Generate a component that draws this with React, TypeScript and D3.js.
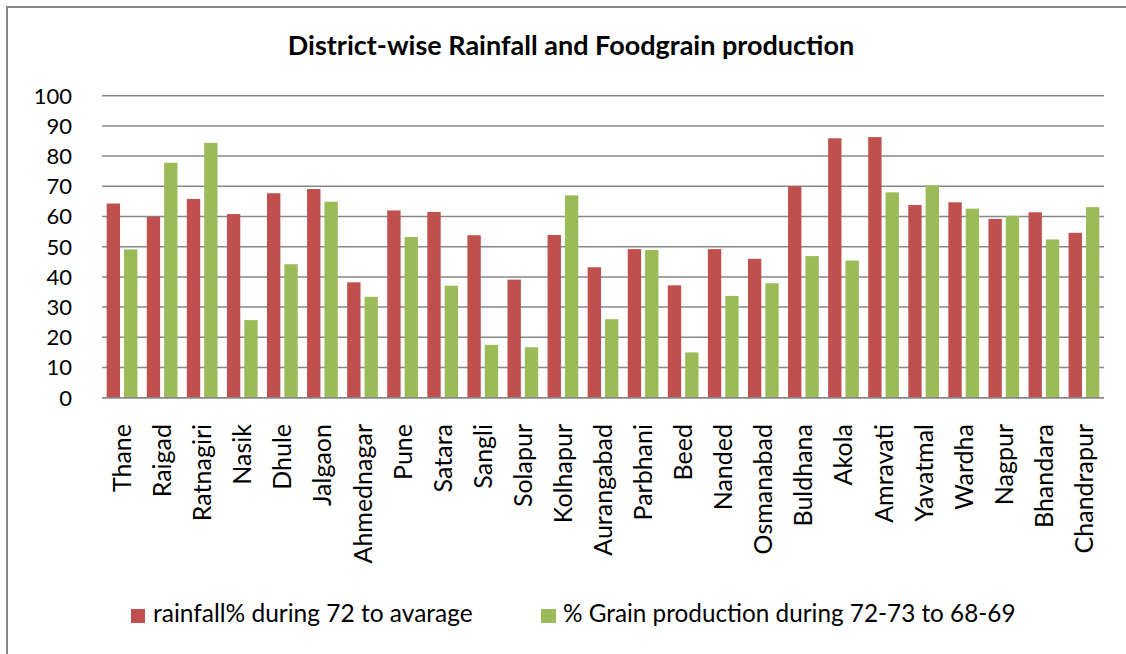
import React from "react";
import * as d3 from "d3";

const districts = [
  "Thane", "Raigad", "Ratnagiri", "Nasik", "Dhule", "Jalgaon", "Ahmednagar",
  "Pune", "Satara", "Sangli", "Solapur", "Kolhapur", "Aurangabad", "Parbhani",
  "Beed", "Nanded", "Osmanabad", "Buldhana", "Akola", "Amravati", "Yavatmal",
  "Wardha", "Nagpur", "Bhandara", "Chandrapur",
];

const rainfall = [
  64.3, 59.9, 65.8, 60.8, 67.7, 69.1, 38.2, 62.0, 61.5, 53.8, 39.1, 53.9, 43.2,
  49.2, 37.2, 49.2, 46.0, 70.0, 85.9, 86.3, 63.8, 64.7, 59.2, 61.4, 54.6,
];

const grain = [
  49.1, 77.8, 84.4, 25.7, 44.2, 64.9, 33.4, 53.2, 37.1, 17.5, 16.7, 67.0, 26.0,
  48.9, 15.0, 33.7, 37.9, 46.9, 45.4, 68.0, 70.3, 62.6, 60.2, 52.4, 63.1,
];

const yTicks = [0, 10, 20, 30, 40, 50, 60, 70, 80, 90, 100];

const seriesNames = [
  "rainfall% during 72 to avarage",
  "% Grain production during 72-73 to 68-69",
];
const seriesColors = ["#C0504D", "#9BBB59"];

const W = 1126;
const H = 654;
const FONT = "Lato, 'Open Sans', sans-serif";

export default function App() {
  const x = d3.scaleBand<string>().domain(districts).range([102, 1104]).padding(0);
  const sub = d3
    .scaleBand<number>()
    .domain([0, 1])
    .range([0, x.bandwidth()])
    .paddingInner(0.23)
    .paddingOuter(0.27);
  const y = d3.scaleLinear().domain([0, 100]).range([397.7, 95.7]);

  const series = [rainfall, grain];

  return (
    <svg
      width={W}
      height={H}
      style={{ position: "absolute", left: 0, top: 0, background: "#fff" }}
      fontFamily={FONT}
    >
      <rect x={7} y={7} width={W + 20} height={H + 20} fill="#fff" stroke="#878787" strokeWidth={2} />

      <text x={571} y={55} textAnchor="middle" fontWeight="bold" fontSize={27} fill="#000">
        District-wise Rainfall and Foodgrain production
      </text>

      {yTicks.map((t) => (
        <g key={t}>
          <line x1={102} x2={1104} y1={y(t)} y2={y(t)} stroke="#878787" strokeWidth={1.5} />
          <text x={72} y={y(t)} dy="0.36em" textAnchor="end" fontSize={22} fill="#000">
            {t}
          </text>
        </g>
      ))}

      {series.map((vals, si) =>
        vals.map((v, i) => (
          <rect
            key={`${si}-${i}`}
            x={(x(districts[i]) ?? 0) + (sub(si) ?? 0)}
            y={y(v)}
            width={sub.bandwidth()}
            height={y(0) - y(v)}
            fill={seriesColors[si]}
          />
        ))
      )}

      <line x1={102} x2={1104} y1={y(0)} y2={y(0)} stroke="#878787" strokeWidth={1.5} />

      {districts.map((d) => {
        const cx = (x(d) ?? 0) + x.bandwidth() / 2;
        return (
          <text
            key={d}
            transform={`translate(${cx},424) rotate(-90)`}
            textAnchor="end"
            dy="0.36em"
            fontSize={25}
            fill="#000"
          >
            {d}
          </text>
        );
      })}

      <rect x={131} y={609} width={14} height={14} fill={seriesColors[0]} />
      <text x={153} y={622} fontSize={24.5} fill="#000">
        {seriesNames[0]}
      </text>
      <rect x={541} y={609} width={15} height={14} fill={seriesColors[1]} />
      <text x={563} y={622} fontSize={24.3} fill="#000">
        {seriesNames[1]}
      </text>
    </svg>
  );
}
